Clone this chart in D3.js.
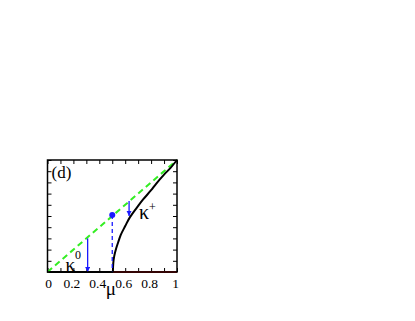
<!DOCTYPE html>
<html>
<head>
<meta charset="utf-8">
<script src="https://cdn.jsdelivr.net/npm/d3@7"></script>
<style>
  body { margin: 0; background: #fff; }
  text { font-family: "Liberation Serif", "DejaVu Serif", serif; }
</style>
</head>
<body>
<div id="chart"></div>
<script>
// data
const xTicks = [0, 0.2, 0.4, 0.6, 0.8, 1];
const minorTicks = [0, 0.1, 0.2, 0.3, 0.4, 0.5, 0.6, 0.7, 0.8, 0.9, 1];
const diagonal = [[0, 0], [1, 1]];                 // green dashed line
const kappaZero = [[0, 0], [0.505, 0]];            // black flat branch
const redBranch = [[0.505, 0], [1, 0]];
const kappaPlus = [[0.505, 0], [0.508, 0.08], [0.515, 0.14], [0.53, 0.21], [0.55, 0.28],
  [0.565, 0.33], [0.6, 0.41], [0.637, 0.49], [0.7, 0.59], [0.74, 0.65], [0.8, 0.73],
  [0.84, 0.79], [0.9, 0.87], [0.95, 0.93], [1, 1]];
const dot = [0.5, 0.51];
const arrows = [{mu: 0.31, from: 0.3, to: 0}, {mu: 0.63, from: 0.635, to: 0.5}];

const W = 415, H = 321;
const margin = {left: 47.5, top: 160, right: W - 177, bottom: H - 272};
const width = W - margin.left - margin.right,
    height = H - margin.top - margin.bottom;

const svg = d3.select("#chart").append("svg")
    .attr("width", W).attr("height", H);

svg.append("defs").append("marker")
    .attr("id", "head")
    .attr("viewBox", "0 0 10 10")
    .attr("refX", 10).attr("refY", 5)
    .attr("markerWidth", 4).attr("markerHeight", 4)
    .attr("orient", "auto")
    .append("path").attr("d", "M0,0L10,5L0,10z").attr("fill", "#1a1aff");

const g = svg.append("g").attr("transform", `translate(${margin.left},${margin.top})`);

const x = d3.scaleLinear().domain([0, 1]).range([0, width]);
const y = d3.scaleLinear().domain([0, 1]).range([height, 0]);

// ticks on all four sides, pointing in
g.append("g").attr("transform", `translate(0,${height})`)
    .call(d3.axisBottom(x).tickValues(minorTicks).tickSize(-4).tickFormat(""));
g.append("g")
    .call(d3.axisTop(x).tickValues(minorTicks).tickSize(-4).tickFormat(""));
g.append("g")
    .call(d3.axisLeft(y).tickValues(minorTicks).tickSize(-4).tickFormat(""));
g.append("g").attr("transform", `translate(${width},0)`)
    .call(d3.axisRight(y).tickValues(minorTicks).tickSize(-4).tickFormat(""));
g.selectAll(".domain").remove();
g.selectAll(".tick line").attr("stroke", "#000").attr("stroke-width", 1);

// tick labels
const lab = g.append("g").attr("transform", `translate(0,${height})`)
    .call(d3.axisBottom(x).tickValues(xTicks).tickSize(0).tickPadding(6)
        .tickFormat(d => d === 0 || d === 1 ? d : d3.format(".1f")(d)));
lab.select(".domain").remove();
lab.selectAll("text").attr("font-size", 13.5).attr("fill", "#000")
    .attr("font-family", "Liberation Serif")
    .attr("dx", d => (d === 0 ? 0.5 : -2));

const line = d3.line().x(d => x(d[0])).y(d => y(d[1]));

g.append("path").datum(redBranch).attr("d", line)
    .attr("fill", "none").attr("stroke", "#cc1111").attr("stroke-width", 2);
g.append("path").datum(kappaZero).attr("d", line)
    .attr("fill", "none").attr("stroke", "#000").attr("stroke-width", 2);
g.append("path").datum(diagonal).attr("d", line)
    .attr("fill", "none").attr("stroke", "#33ee22").attr("stroke-width", 2)
    .attr("stroke-dasharray", "6,4");
g.append("path").datum(kappaPlus).attr("d", d3.line().curve(d3.curveCatmullRom.alpha(0.5))
        .x(d => x(d[0])).y(d => y(d[1])))
    .attr("fill", "none").attr("stroke", "#000").attr("stroke-width", 2);

// dashed drop from the dot
g.append("line")
    .attr("x1", x(dot[0])).attr("x2", x(dot[0]))
    .attr("y1", y(dot[1])).attr("y2", y(0))
    .attr("stroke", "#1a1aff").attr("stroke-width", 1.3).attr("stroke-dasharray", "4,3");
g.append("circle").attr("cx", x(dot[0])).attr("cy", y(dot[1])).attr("r", 3)
    .attr("fill", "#1a1aff");

g.selectAll(".arrow").data(arrows).join("line")
    .attr("class", "arrow")
    .attr("x1", d => x(d.mu)).attr("x2", d => x(d.mu))
    .attr("y1", d => y(d.from)).attr("y2", d => y(d.to))
    .attr("stroke", "#1a1aff").attr("stroke-width", 1.3)
    .attr("marker-end", "url(#head)");

// frame
g.append("rect").attr("width", width).attr("height", height)
    .attr("fill", "none").attr("stroke", "#000").attr("stroke-width", 1.5);

// labels
svg.append("text").attr("x", 51.5).attr("y", 178).attr("font-size", 17).text("(d)");
svg.append("text").attr("x", 139).attr("y", 219).attr("font-size", 20).text("κ");
svg.append("text").attr("x", 149).attr("y", 211).attr("font-size", 12).text("+");
svg.append("text").attr("x", 65.5).attr("y", 271).attr("font-size", 19).text("κ");
svg.append("text").attr("x", 75).attr("y", 259).attr("font-size", 12).text("0");
svg.append("text").attr("x", x(0.49) + margin.left).attr("y", 295)
    .attr("text-anchor", "middle").attr("font-size", 19).text("μ");
</script>
</body>
</html>
